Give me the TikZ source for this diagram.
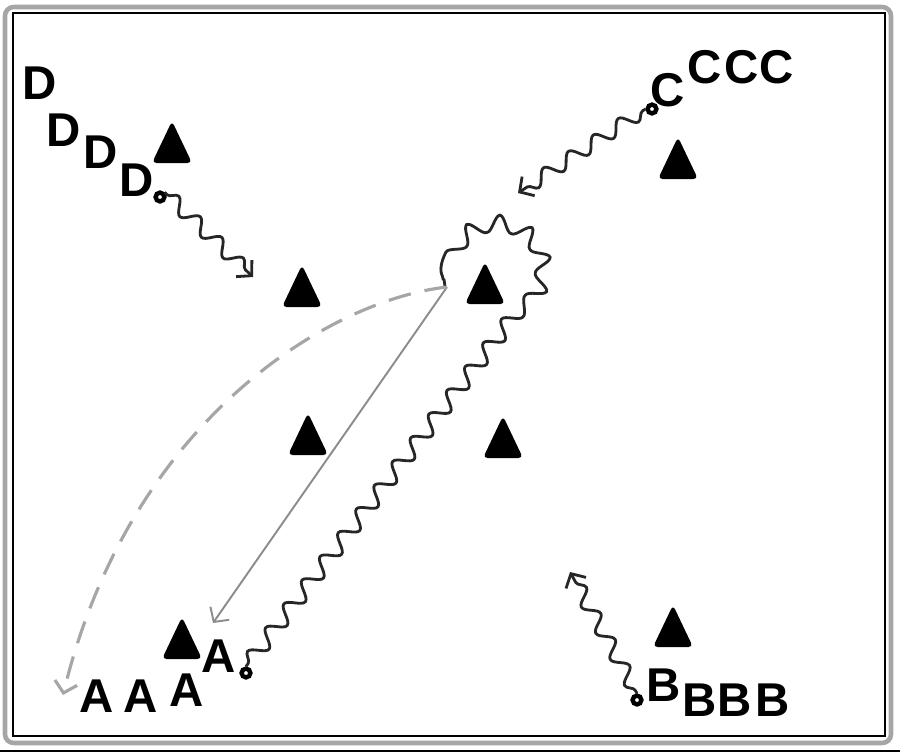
\documentclass[tikz,border=0pt]{standalone}
\usepackage{fontspec}
\setmainfont{Liberation Sans}
\usetikzlibrary{arrows.meta, decorations.pathmorphing, positioning, calc}

\begin{document}
\begin{tikzpicture}[x=0.02cm,y=-0.02cm]

\tikzstyle{cone}  = [fill=black,rounded corners=2.5pt]
\tikzstyle{player}  = [font=\fontsize{27}{27}\selectfont\bfseries,inner sep=0pt]
\tikzstyle{ball}  = [circle,draw,line width=2.5pt,fill=white,inner sep=0pt,minimum size=5pt]
\tikzstyle{barb}  = [-{Straight Barb[length=6pt,width=13pt]}]
\tikzstyle{dribble}  = [barb,black!85,line width=1.6pt,decorate,
  decoration={snake,amplitude=4pt,segment length=17pt,pre length=2pt,post length=4pt}]
\tikzstyle{pass}  = [barb,black!45,line width=1.1pt]
\tikzstyle{run}  = [barb,black!35,line width=1.8pt,dash pattern=on 13pt off 8pt]

\path[use as bounding box] (0,0) rectangle (900,752);

% frame
\draw[gray!70,line width=2.6pt,rounded corners=5pt] (5,7) rectangle (891,743);
\draw[line width=1.1pt] (13,13) rectangle (885,736);
\draw[line width=0.9pt] (0,751) -- (900,751);

\def\cone#1#2{\fill[cone] (#1-20,#2+21) -- (#1,#2-21) -- (#1+20,#2+21) -- cycle;}

\cone{172}{142}
\cone{302}{286}
\cone{485}{283}
\cone{678}{158}
\cone{308}{434}
\cone{503}{437}
\cone{182}{638}
\cone{673}{626}

% players
\node[player] (d1) at (40,83) {D};
\node[player] (d2) at (64,130) {D};
\node[player] (d3) at (101,152) {D};
\node[player] (d4) at (137,180) {D};
\node[ball] (dball) at (160,197) {};

\node[player] (c1) at (668,90) {C};
\node[player] (c2) at (705,67) {C};
\node[player] (c3) at (742,67) {C};
\node[player] (c4) at (777,67) {C};
\node[ball] (cball) at (652,109) {};

\node[player] (a1) at (97,696) {A};
\node[player] (a2) at (141,696) {A};
\node[player] (a3) at (187,690) {A};
\node[player] (a4) at (219,656) {A};
\node[ball] (aball) at (246,673) {};

\node[player] (b1) at (664,685) {B};
\node[player] (b2) at (700,700) {B};
\node[player] (b3) at (735,700) {B};
\node[player] (b4) at (773,700) {B};
\node[ball] (bball) at (637,700) {};

\coordinate (dend) at (253,277);
\coordinate (cend) at (518,193);
\coordinate (bend) at (570,572);
\coordinate (round) at (513,317);
\coordinate (turn) at (447,287);
\coordinate (passend) at (213,623);
\coordinate (runend) at (63,695);

\draw[dribble] (dball.north east) -- (dend);
\draw[dribble] (cball.west) -- (cend);
\draw[dribble] (bball.north) -- (bend);
\draw[dribble,-,decoration={segment length=17pt,amplitude=4.5pt}] (aball.north) -- (round)
  arc[start angle=60,end angle=-192,radius=46];

\draw[pass] (turn) -- (passend);
\draw[run] (turn) .. controls (330,300) and (130,420) .. (runend);

\end{tikzpicture}
\end{document}
